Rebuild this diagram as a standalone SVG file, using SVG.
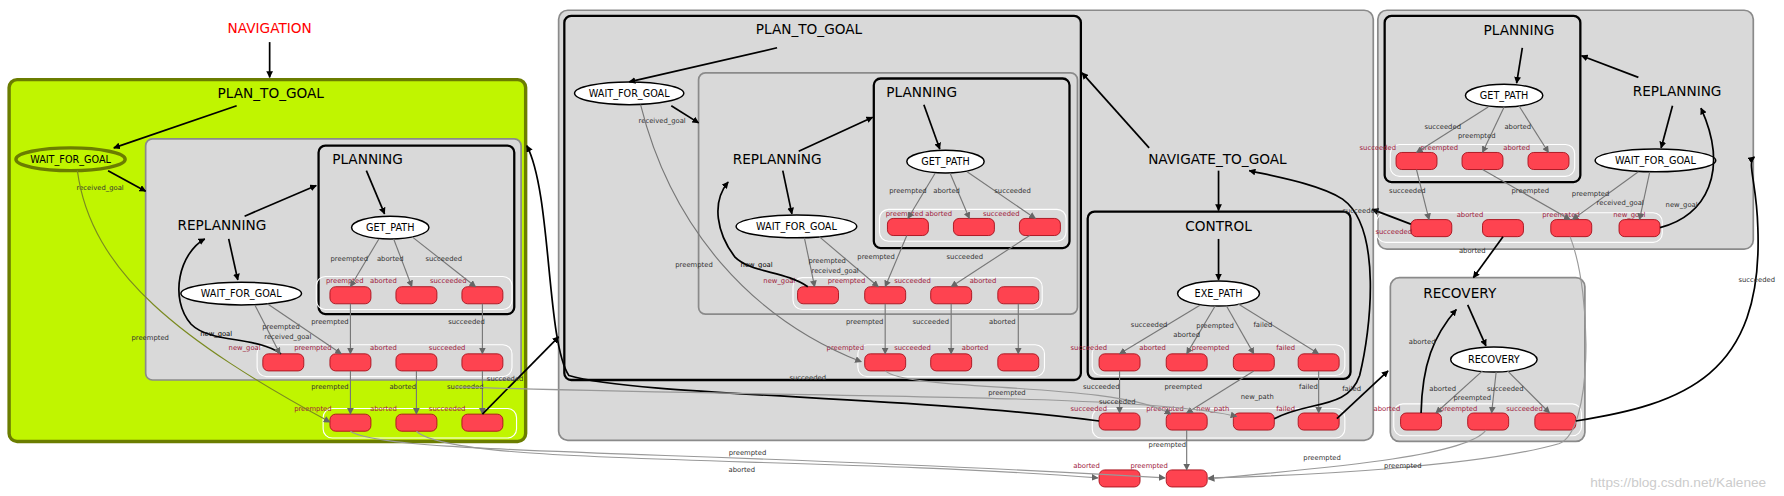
<svg xmlns="http://www.w3.org/2000/svg" width="1784" height="496" viewBox="0 0 1784 496">
<style>
text{font-family:"DejaVu Sans",sans-serif}
.t{font-size:12px;fill:#000;text-anchor:middle}
.n{font-size:8.5px;fill:#000;text-anchor:middle}
.e{font-size:6px;fill:#333;text-anchor:middle}
.r{font-size:6px;fill:#a0203c;text-anchor:middle}
.c{fill:#d9d9d9;stroke:#8a8a8a;stroke-width:1.5}
.k{fill:#d9d9d9;stroke:#000;stroke-width:2}
.w{fill:none;stroke:#fff;stroke-width:1}
.o{fill:#fe4350;stroke:#a8101c;stroke-width:0.8}
.el{fill:#fff;stroke:#000;stroke-width:1.3}
.b{fill:none;stroke:#000;stroke-width:1.5;marker-end:url(#ab)}
.g{fill:none;stroke:#777;stroke-width:1;marker-end:url(#ag)}
.gn{fill:none;stroke:#999;stroke-width:1;marker-end:url(#ag)}
</style>
<defs>
<marker id="ab" viewBox="0 0 10 10" refX="9" refY="5" markerWidth="6" markerHeight="6" orient="auto" markerUnits="userSpaceOnUse"><path d="M0,0L10,5L0,10z" fill="#000"/></marker>
<marker id="ag" viewBox="0 0 10 10" refX="9" refY="5" markerWidth="6" markerHeight="6" orient="auto" markerUnits="userSpaceOnUse"><path d="M0,0L10,5L0,10z" fill="#666"/></marker>
</defs>
<g transform="scale(1.13776)">
<text x="237" y="29" class="t" fill="#f00" style="fill:#f00">NAVIGATION</text>

<!-- containers -->
<g id="plan_to_goal_active">
<rect x="8" y="70" width="454" height="318" rx="7" fill="#c0f500" stroke="#6b7d00" stroke-width="3"/>
<text x="238" y="86" class="t">PLAN_TO_GOAL</text>
<ellipse cx="62" cy="140" rx="48" ry="10" fill="#c0f500" stroke="#6b7d00" stroke-width="3"/>
<text x="62" y="143" class="n">WAIT_FOR_GOAL</text>
<rect x="128" y="122" width="330" height="212" rx="6" class="c"/>
<text x="195" y="202" class="t">REPLANNING</text>
<rect x="280" y="128" width="172" height="148" rx="6" class="k"/>
<text x="292" y="144" class="t" style="text-anchor:start">PLANNING</text>
<ellipse cx="343" cy="200" rx="34" ry="10" class="el"/>
<text x="343" y="203" class="n">GET_PATH</text>
<ellipse cx="212" cy="258" rx="53" ry="10" class="el"/>
<text x="212" y="261" class="n">WAIT_FOR_GOAL</text>
<rect x="278" y="243" width="172" height="29" rx="8" class="w"/>
<rect x="290" y="252" width="36" height="15" rx="5" class="o"/>
<rect x="348" y="252" width="36" height="15" rx="5" class="o"/>
<rect x="406" y="252" width="36" height="15" rx="5" class="o"/>
<text x="303" y="249" class="r">preempted</text><text x="337" y="249" class="r">aborted</text><text x="394" y="249" class="r">succeeded</text>
<rect x="226" y="303" width="224" height="28" rx="8" class="w"/>
<rect x="231" y="311" width="36" height="15" rx="5" class="o"/>
<rect x="290" y="311" width="36" height="15" rx="5" class="o"/>
<rect x="348" y="311" width="36" height="15" rx="5" class="o"/>
<rect x="406" y="311" width="36" height="15" rx="5" class="o"/>
<text x="215" y="308" class="r">new_goal</text><text x="275" y="308" class="r">preempted</text><text x="337" y="308" class="r">aborted</text><text x="393" y="308" class="r">succeeded</text>
<rect x="284" y="359" width="170" height="26" rx="8" class="w"/>
<rect x="290" y="364" width="36" height="15" rx="5" class="o"/>
<rect x="348" y="364" width="36" height="15" rx="5" class="o"/>
<rect x="406" y="364" width="36" height="15" rx="5" class="o"/>
<text x="275" y="361" class="r">preempted</text><text x="337" y="361" class="r">aborted</text><text x="393" y="361" class="r">succeeded</text>
</g>

<g id="navigate_to_goal">
<rect x="491" y="9" width="716" height="378" rx="8" class="c"/>
<rect x="496" y="14" width="454" height="320" rx="6" class="k"/>
<text x="711" y="30" class="t">PLAN_TO_GOAL</text>
<ellipse cx="553" cy="82" rx="48" ry="10" class="el"/>
<text x="553" y="85" class="n">WAIT_FOR_GOAL</text>
<rect x="614" y="64" width="333" height="212" rx="6" class="c"/>
<text x="683" y="144" class="t">REPLANNING</text>
<rect x="768" y="69" width="172" height="149" rx="6" class="k"/>
<text x="779" y="85" class="t" style="text-anchor:start">PLANNING</text>
<ellipse cx="831" cy="142" rx="34" ry="10" class="el"/>
<text x="831" y="145" class="n">GET_PATH</text>
<ellipse cx="700" cy="199" rx="53" ry="10" class="el"/>
<text x="700" y="202" class="n">WAIT_FOR_GOAL</text>
<rect x="773" y="184" width="164" height="28" rx="8" class="w"/>
<rect x="780" y="192" width="36" height="15" rx="5" class="o"/>
<rect x="838" y="192" width="36" height="15" rx="5" class="o"/>
<rect x="896" y="192" width="36" height="15" rx="5" class="o"/>
<text x="795" y="190" class="r">preempted</text><text x="825" y="190" class="r">aborted</text><text x="880" y="190" class="r">succeeded</text>
<rect x="697" y="244" width="219" height="28" rx="8" class="w"/>
<rect x="701" y="252" width="36" height="15" rx="5" class="o"/>
<rect x="760" y="252" width="36" height="15" rx="5" class="o"/>
<rect x="818" y="252" width="36" height="15" rx="5" class="o"/>
<rect x="877" y="252" width="36" height="15" rx="5" class="o"/>
<text x="685" y="249" class="r">new_goal</text><text x="744" y="249" class="r">preempted</text><text x="802" y="249" class="r">succeeded</text><text x="864" y="249" class="r">aborted</text>
<rect x="754" y="303" width="164" height="28" rx="8" class="w"/>
<rect x="760" y="311" width="36" height="15" rx="5" class="o"/>
<rect x="818" y="311" width="36" height="15" rx="5" class="o"/>
<rect x="877" y="311" width="36" height="15" rx="5" class="o"/>
<text x="743" y="308" class="r">preempted</text><text x="802" y="308" class="r">succeeded</text><text x="857" y="308" class="r">aborted</text>
<text x="1070" y="144" class="t">NAVIGATE_TO_GOAL</text>
<rect x="956" y="186" width="231" height="147" rx="6" class="k"/>
<text x="1071" y="203" class="t">CONTROL</text>
<ellipse cx="1071" cy="258" rx="36" ry="11" class="el"/>
<text x="1071" y="261" class="n">EXE_PATH</text>
<rect x="960" y="303" width="222" height="27" rx="8" class="w"/>
<rect x="966" y="311" width="36" height="15" rx="5" class="o"/>
<rect x="1025" y="311" width="36" height="15" rx="5" class="o"/>
<rect x="1084" y="311" width="36" height="15" rx="5" class="o"/>
<rect x="1141" y="311" width="36" height="15" rx="5" class="o"/>
<text x="957" y="308" class="r">succeeded</text><text x="1013" y="308" class="r">aborted</text><text x="1064" y="308" class="r">preempted</text><text x="1130" y="308" class="r">failed</text>
<rect x="960" y="359" width="222" height="26" rx="8" class="w"/>
<rect x="966" y="363" width="36" height="15" rx="5" class="o"/>
<rect x="1025" y="363" width="36" height="15" rx="5" class="o"/>
<rect x="1084" y="363" width="36" height="15" rx="5" class="o"/>
<rect x="1141" y="363" width="36" height="15" rx="5" class="o"/>
<text x="957" y="361" class="r">succeeded</text><text x="1024" y="361" class="r">preempted</text><text x="1066" y="361" class="r">new_path</text><text x="1130" y="361" class="r">failed</text>
</g>

<g id="replanning">
<rect x="1211" y="9" width="330" height="210" rx="8" class="c"/>
<rect x="1217" y="14" width="172" height="146" rx="6" class="k"/>
<text x="1335" y="31" class="t">PLANNING</text>
<ellipse cx="1322" cy="84" rx="34" ry="10" class="el"/>
<text x="1322" y="87" class="n">GET_PATH</text>
<text x="1474" y="84" class="t">REPLANNING</text>
<ellipse cx="1455" cy="141" rx="53" ry="10" class="el"/>
<text x="1455" y="144" class="n">WAIT_FOR_GOAL</text>
<rect x="1222" y="127" width="162" height="28" rx="8" class="w"/>
<rect x="1227" y="134" width="36" height="15" rx="5" class="o"/>
<rect x="1285" y="134" width="36" height="15" rx="5" class="o"/>
<rect x="1343" y="134" width="36" height="15" rx="5" class="o"/>
<text x="1211" y="132" class="r">succeeded</text><text x="1265" y="132" class="r">preempted</text><text x="1333" y="132" class="r">aborted</text>
<rect x="1210" y="187" width="251" height="26" rx="8" class="w"/>
<rect x="1240" y="193" width="36" height="15" rx="5" class="o"/>
<rect x="1303" y="193" width="36" height="15" rx="5" class="o"/>
<rect x="1363" y="193" width="36" height="15" rx="5" class="o"/>
<rect x="1423" y="193" width="36" height="15" rx="5" class="o"/>
<text x="1225" y="206" class="r">succeeded</text><text x="1292" y="191" class="r">aborted</text><text x="1372" y="191" class="r">preempted</text><text x="1432" y="191" class="r">new_goal</text>
</g>

<g id="recovery">
<rect x="1222" y="244" width="171" height="144" rx="8" class="c"/>
<text x="1283" y="262" class="t">RECOVERY</text>
<ellipse cx="1313" cy="316" rx="38" ry="11" class="el"/>
<text x="1313" y="319" class="n">RECOVERY</text>
<rect x="1225" y="355" width="165" height="28" rx="8" class="w"/>
<rect x="1231" y="363" width="36" height="15" rx="5" class="o"/>
<rect x="1290" y="363" width="36" height="15" rx="5" class="o"/>
<rect x="1349" y="363" width="36" height="15" rx="5" class="o"/>
<text x="1219" y="361" class="r">aborted</text><text x="1282" y="361" class="r">preempted</text><text x="1340" y="361" class="r">succeeded</text>
</g>

<g id="final_outcomes">
<rect x="966" y="413" width="36" height="15" rx="5" class="o"/>
<rect x="1025" y="413" width="36" height="15" rx="5" class="o"/>
<text x="955" y="411" class="r">aborted</text><text x="1010" y="411" class="r">preempted</text>
</g>

<g id="connectors">
<path class="b" d="M237,37 L237,68"/>
<!-- lime -->
<path class="b" d="M208,93 L100,130"/>
<path class="b" d="M95,150 L128,168"/><text x="88" y="167" class="e">received_goal</text>
<path class="b" d="M215,190 L278,163"/>
<path class="b" d="M322,150 L338,188"/>
<path class="b" d="M201,210 L209,246"/>
<path class="g" d="M333,210 L308,252"/><text x="307" y="229" class="e">preempted</text>
<path class="g" d="M346,210 L362,252"/><text x="343" y="229" class="e">aborted</text>
<path class="g" d="M362,208 L418,252"/><text x="390" y="229" class="e">succeeded</text>
<path class="b" d="M247,311 C225,295 185,302 168,285 C148,262 158,222 180,210"/><text x="190" y="295" class="e" style="fill:#000">new_goal</text>
<path class="g" d="M224,268 L246,311"/><text x="247" y="289" class="e">preempted</text>
<path class="g" d="M235,267 L300,311"/><text x="253" y="298" class="e">received_goal</text>
<path class="g" d="M308,267 L308,311"/><text x="290" y="285" class="e">preempted</text>
<path class="g" d="M424,267 L424,311"/><text x="410" y="285" class="e">succeeded</text>
<path class="g" d="M308,326 L308,364"/><text x="290" y="342" class="e">preempted</text>
<path class="g" d="M366,326 L366,364"/><text x="354" y="342" class="e">aborted</text>
<path class="g" d="M424,326 L424,364"/><text x="409" y="342" class="e">succeeded</text>
<path class="g" d="M68,150 C80,240 160,300 290,371" style="stroke:#7a8a20"/><text x="132" y="299" class="e">preempted</text>
<path class="b" d="M424,364 L491,296"/><text x="444" y="335" class="e">succeeded</text>
<path class="b" d="M966,370 C800,348 560,348 500,330 C480,300 485,170 463,128"/><text x="710" y="334" class="e">succeeded</text>
<!-- nav plan -->
<path class="b" d="M683,42 L553,72"/>
<path class="b" d="M590,93 L614,108"/><text x="582" y="108" class="e">received_goal</text>
<path class="b" d="M702,133 L767,103"/>
<path class="b" d="M812,92 L826,131"/>
<path class="b" d="M688,150 L696,188"/>
<path class="g" d="M822,152 L798,192"/><text x="798" y="170" class="e">preempted</text>
<path class="g" d="M835,152 L852,192"/><text x="832" y="170" class="e">aborted</text>
<path class="g" d="M850,151 L910,192"/><text x="890" y="170" class="e">succeeded</text>
<path class="b" d="M710,252 C690,238 660,240 646,226 C630,205 625,178 640,160"/><text x="665" y="235" class="e" style="fill:#000">new_goal</text>
<path class="g" d="M707,209 L716,252"/><text x="727" y="231" class="e">preempted</text>
<path class="g" d="M720,208 L772,252"/><text x="734" y="240" class="e">received_goal</text>
<path class="g" d="M797,207 L778,252"/><text x="770" y="228" class="e">preempted</text>
<path class="g" d="M905,207 L836,252"/><text x="848" y="228" class="e">succeeded</text>
<path class="g" d="M778,267 L778,311"/><text x="760" y="285" class="e">preempted</text>
<path class="g" d="M836,267 L836,311"/><text x="818" y="285" class="e">succeeded</text>
<path class="g" d="M895,267 L895,311"/><text x="881" y="285" class="e">aborted</text>
<path class="g" d="M563,92 C590,200 660,280 757,318"/><text x="610" y="235" class="e">preempted</text>
<!-- nav -->
<path class="b" d="M1010,130 L951,64"/>
<path class="b" d="M1071,150 L1071,185"/>
<path class="b" d="M1071,210 L1071,246"/>
<path class="g" d="M1055,268 L984,311"/><text x="1010" y="287" class="e">succeeded</text>
<path class="g" d="M1068,269 L1043,311"/><text x="1068" y="288" class="e">preempted</text><text x="1043" y="296" class="e">aborted</text>
<path class="g" d="M1078,269 L1102,311"/>
<path class="g" d="M1088,267 L1159,311"/><text x="1110" y="287" class="e">failed</text>
<path class="g" d="M984,326 L984,363"/><text x="968" y="342" class="e">succeeded</text>
<path class="g" d="M1102,326 L1043,363"/><text x="1040" y="342" class="e">preempted</text>
<path class="g" d="M1159,326 L1159,363"/><text x="1150" y="342" class="e">failed</text>
<path class="gn" d="M778,326 C800,345 980,335 1029,364"/><text x="885" y="347" class="e">preempted</text>
<path class="gn" d="M400,340 C700,350 1000,345 1087,366"/><text x="982" y="355" class="e">succeeded</text>
<path class="b" d="M1120,368 C1150,352 1185,360 1195,330 C1205,290 1215,200 1180,175 C1160,162 1120,155 1098,150"/><text x="1105" y="351" class="e">new_path</text>
<path class="b" d="M1175,368 L1220,326"/><text x="1188" y="344" class="e">failed</text>
<path class="g" d="M1043,378 L1043,413"/><text x="1026" y="393" class="e">preempted</text>
<path class="gn" d="M308,379 C340,400 600,395 1024,420"/><text x="657" y="400" class="e">preempted</text>
<path class="gn" d="M366,379 C400,410 700,400 965,420"/><text x="652" y="415" class="e">aborted</text>
<!-- replanning -->
<path class="b" d="M1338,42 L1333,73"/>
<path class="g" d="M1308,94 L1245,134"/><text x="1268" y="113" class="e">succeeded</text>
<path class="g" d="M1322,94 L1303,134"/><text x="1298" y="121" class="e">preempted</text>
<path class="g" d="M1335,93 L1361,134"/><text x="1334" y="113" class="e">aborted</text>
<path class="b" d="M1440,68 L1390,49"/>
<path class="b" d="M1470,93 L1460,130"/>
<path class="g" d="M1245,149 L1256,193"/><text x="1237" y="170" class="e">succeeded</text>
<path class="g" d="M1303,149 L1380,193"/><text x="1345" y="170" class="e">preempted</text>
<path class="g" d="M1440,151 L1382,193"/><text x="1398" y="172" class="e">preempted</text>
<path class="g" d="M1450,151 L1441,193"/><text x="1424" y="180" class="e">received_goal</text>
<path class="b" d="M1459,200 C1500,190 1520,150 1495,95"/><text x="1478" y="182" class="e">new_goal</text>
<path class="b" d="M1240,197 L1206,184"/><text x="1196" y="187" class="e">succeeded</text>
<path class="b" d="M1321,208 L1295,244"/><text x="1294" y="222" class="e">aborted</text>
<path class="gn" d="M1380,208 C1400,260 1400,380 1370,390 C1300,410 1150,418 1062,420"/><text x="1233" y="411" class="e">preempted</text>
<!-- recovery -->
<path class="b" d="M1290,268 L1306,304"/>
<path class="g" d="M1303,326 L1262,363"/><text x="1268" y="344" class="e">aborted</text>
<path class="g" d="M1315,327 L1311,363"/><text x="1294" y="352" class="e">preempted</text>
<path class="g" d="M1325,326 L1362,363"/><text x="1323" y="344" class="e">succeeded</text>
<path class="b" d="M1249,363 C1250,320 1260,295 1280,272"/><text x="1250" y="302" class="e">aborted</text>
<path class="gn" d="M1306,378 C1290,400 1180,410 1062,421"/><text x="1162" y="404" class="e">preempted</text>
<path class="b" d="M1385,370 C1480,355 1550,330 1545,200 C1544,160 1535,143 1542,138"/><text x="1544" y="248" class="e">succeeded</text>
</g>
<text x="1475" y="428" style="font-family:'Liberation Sans',sans-serif;font-size:12px;fill:#ccc;text-anchor:middle">https://blog.csdn.net/Kalenee</text>
</g>
</svg>
